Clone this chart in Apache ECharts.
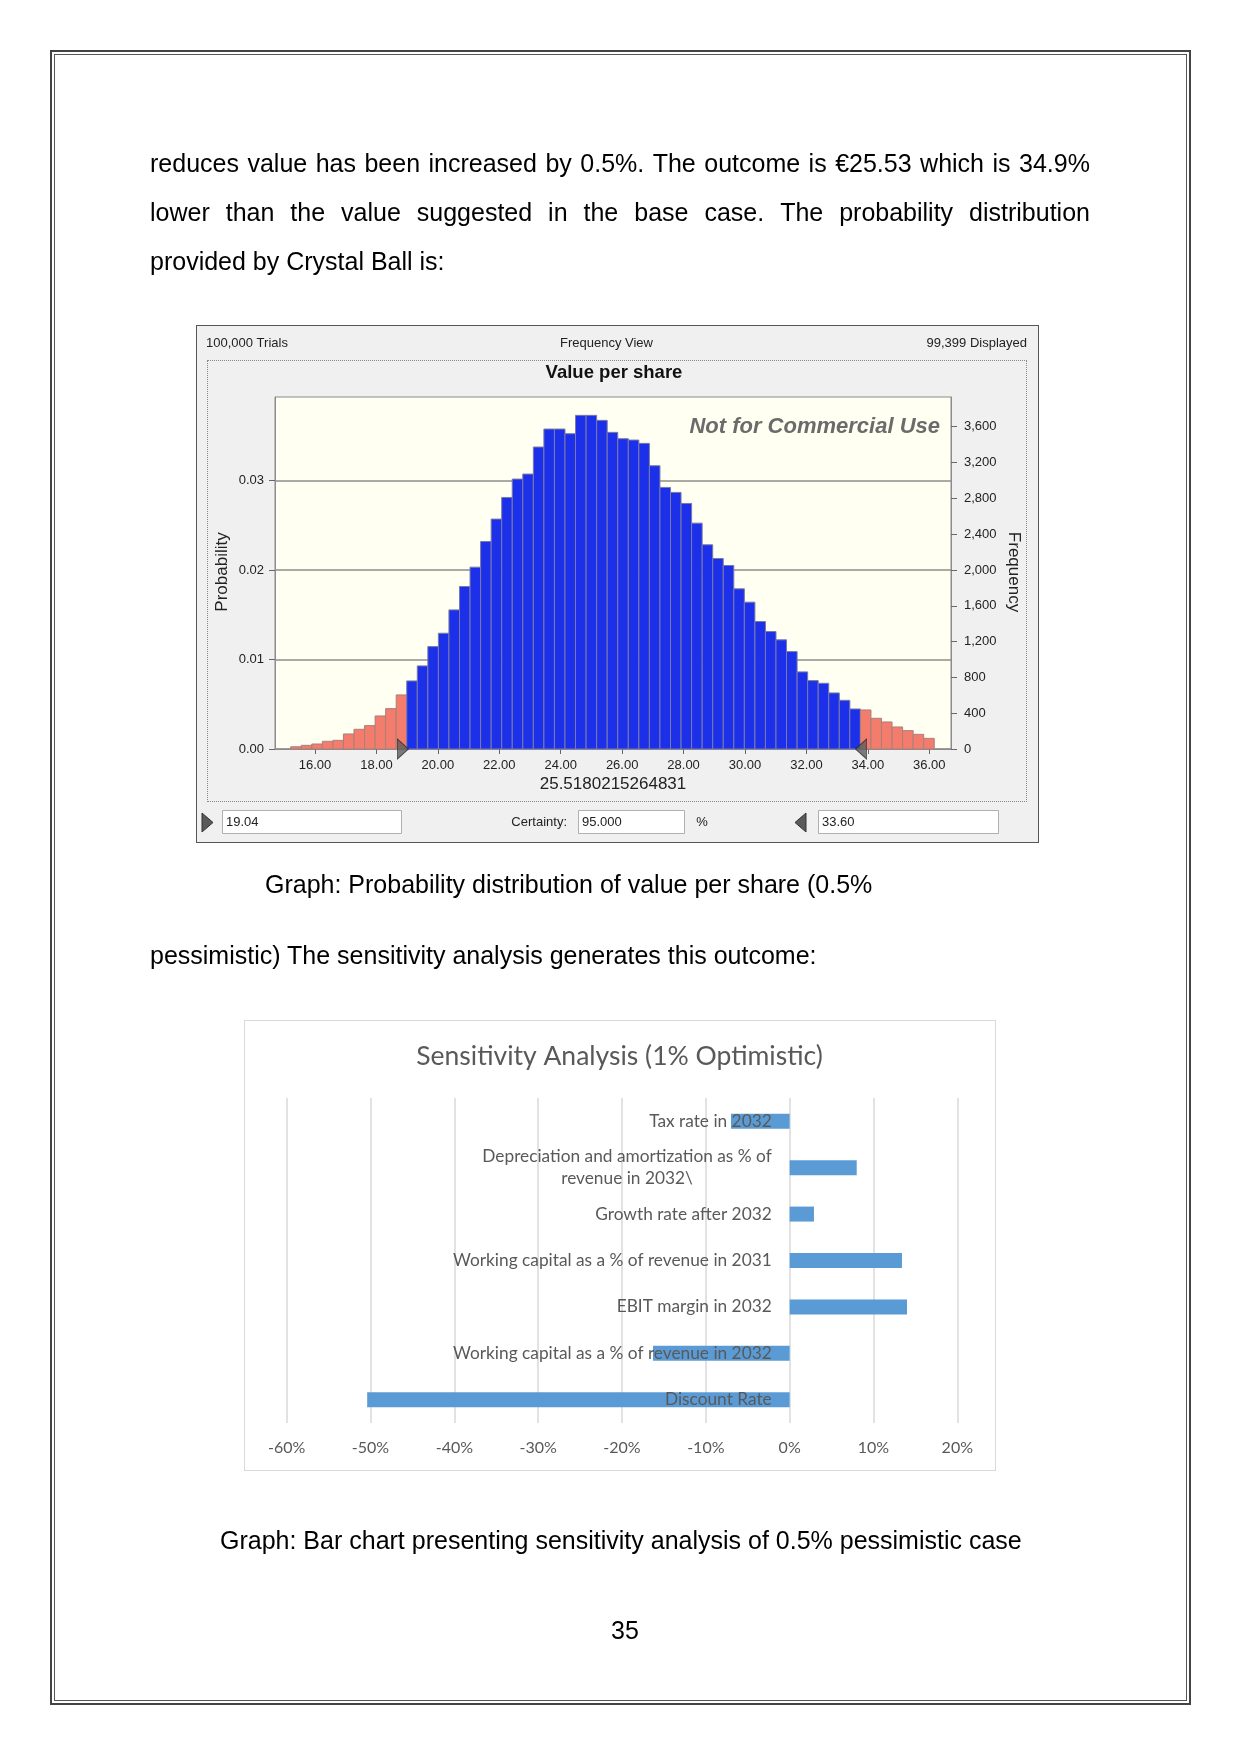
<!DOCTYPE html>
<html><head><meta charset="utf-8">
<script src="https://cdn.jsdelivr.net/npm/echarts@6/dist/echarts.min.js"></script>
<style>
body{margin:0;background:#fff;}
#page{position:relative;width:1242px;height:1756px;overflow:hidden;background:#fff;font-family:'Liberation Sans',Arial,sans-serif;}
.box{position:absolute;box-sizing:border-box;}
#chart{position:absolute;left:0;top:0;width:1242px;height:1756px;z-index:2;}
.txt{position:absolute;font-size:25px;line-height:49px;height:49px;color:#000;white-space:nowrap;z-index:3;}
.just{display:flex;justify-content:space-between;width:940px;}
</style></head>
<body>
<div id="page">
  <div class="box" style="left:50px;top:50px;width:1141px;height:1655px;border:2px solid #444;"></div>
  <div class="box" style="left:54px;top:54px;width:1133px;height:1647px;border:1px solid #555;"></div>
  <div class="box" style="left:196px;top:325px;width:843px;height:518px;background:#f0f0f0;border:1px solid #555;"></div>
  <div class="box" style="left:207px;top:360px;width:820px;height:442px;border:1px dotted #888;"></div>
  <div class="box" style="left:244px;top:1020px;width:752px;height:451px;background:#fff;border:1px solid #d9d9d9;"></div>
  <div id="chart"></div>
  <div id="l1" class="txt just" style="left:150px;top:139px;"></div>
  <div id="l2" class="txt just" style="left:150px;top:188px;"></div>
  <div class="txt" style="left:150px;top:237px;">provided by Crystal Ball is:</div>
  <div class="txt" style="left:265px;top:860px;">Graph: Probability distribution of value per share (0.5%</div>
  <div class="txt" style="left:150px;top:931px;">pessimistic) The sensitivity analysis generates this outcome:</div>
  <div class="txt" style="left:220px;top:1516px;">Graph: Bar chart presenting sensitivity analysis of 0.5% pessimistic case</div>
  <div class="txt" style="left:600px;top:1606px;width:50px;text-align:center;">35</div>
</div>
<script>
// ---------- paragraph lines (justified) ----------
const paraLines = [
  "reduces value has been increased by 0.5%. The outcome is €25.53 which is 34.9%",
  "lower than the value suggested in the base case. The probability distribution"
];
['l1','l2'].forEach((id, k) => {
  const el = document.getElementById(id);
  paraLines[k].split(' ').forEach(w => { const s = document.createElement('span'); s.textContent = w; el.appendChild(s); });
});

// ---------- histogram data (Crystal Ball frequency view) ----------
const binStart = 15.208;
const binWidth = 0.3435;
const frequency = [
  25, 41, 56, 86, 97, 168, 220, 261, 369, 451, 604,
  760, 928, 1144, 1293, 1554, 1815, 2031, 2318, 2568,
  2810, 3015, 3071, 3373, 3574, 3574, 3522, 3727, 3727, 3671, 3537,
  3466, 3451, 3414, 3164, 2922, 2866, 2743, 2523, 2281, 2128,
  2050, 1789, 1640, 1424, 1312, 1219, 1088, 861, 764, 734, 626, 544, 447,
  436, 343, 302, 246, 205, 164, 119
];
const certaintyLow = 19.04;
const certaintyHigh = 33.60;
const xTicks = [16, 18, 20, 22, 24, 26, 28, 30, 32, 34, 36];
const probTicks = [0, 0.01, 0.02, 0.03];
const freqTicks = [0, 400, 800, 1200, 1600, 2000, 2400, 2800, 3200, 3600];

// ---------- sensitivity data ----------
const sensCategories = [
  "Tax rate in 2032",
  "Depreciation and amortization as % of\nrevenue in 2032\\",
  "Growth rate after 2032",
  "Working capital as a % of revenue in 2031",
  "EBIT margin in 2032",
  "Working capital as a % of revenue in 2032",
  "Discount Rate"
];
const sensValues = [-0.070, 0.080, 0.029, 0.134, 0.140, -0.163, -0.504];

const histData = frequency.map((f, i) => [binStart + i * binWidth, binStart + (i + 1) * binWidth, f]);

const CB = 'Liberation Sans';
const XL = 'Lato';
const t = (x, y, text, o) => Object.assign({type:'text', x, y, style: Object.assign({text, fill:'#222', font:'13px ' + CB, align:'left', verticalAlign:'middle'}, o || {})});

const chart = echarts.init(document.getElementById('chart'), null, {width:1242, height:1756});
chart.setOption({
  animation: false,
  grid: [
    {left:275, top:397, width:676, height:352, show:true, backgroundColor:'#fffff2', borderColor:'#8c8c8c', borderWidth:1, outerBoundsMode:'none', containLabel:false},
    {left:286.7, top:1098, width:670.6, height:325, show:false, outerBoundsMode:'none', containLabel:false}
  ],
  xAxis: [
    {type:'value', gridIndex:0, min:14.697, max:36.707,
     axisLine:{show:true, lineStyle:{color:'#8c8c8c'}},
     axisTick:{show:true, length:5, customValues:xTicks, lineStyle:{color:'#666'}},
     axisLabel:{customValues:xTicks, formatter:v => v.toFixed(2), fontSize:13, color:'#222', margin:10, fontFamily:CB},
     splitLine:{show:false}},
    {type:'value', gridIndex:1, min:-0.6, max:0.2, interval:0.1,
     axisLine:{show:false}, axisTick:{show:false},
     splitLine:{show:true, lineStyle:{color:'#d9d9d9', width:1.5}},
     axisLabel:{formatter:v => Math.round(v * 100) + '%', fontSize:16, color:'#595959', margin:17, fontFamily:XL}}
  ],
  yAxis: [
    {type:'value', gridIndex:0, position:'left', min:0, max:0.03932, interval:0.01,
     axisLine:{show:true, lineStyle:{color:'#8c8c8c'}},
     axisTick:{show:true, length:6, customValues:probTicks, lineStyle:{color:'#666'}},
     axisLabel:{customValues:probTicks, formatter:v => v.toFixed(2), fontSize:13, color:'#222', margin:11, fontFamily:CB},
     splitLine:{show:true, lineStyle:{color:'#8c8c8c', width:1.5}}},
    {type:'value', gridIndex:0, position:'right', min:0, max:3932, interval:400,
     axisLine:{show:true, lineStyle:{color:'#8c8c8c'}},
     axisTick:{show:true, length:6, customValues:freqTicks, lineStyle:{color:'#666'}},
     axisLabel:{customValues:freqTicks, formatter:v => v.toLocaleString('en-US'), fontSize:13, color:'#222', margin:13, fontFamily:CB},
     splitLine:{show:false}},
    {type:'category', gridIndex:1, data:sensCategories, inverse:true, z:10, position:'left', offset:-503,
     axisLine:{show:false, onZero:false}, axisTick:{show:false}, splitLine:{show:false},
     axisLabel:{interval:0, margin:18, fontSize:17.3, color:'#595959', fontFamily:XL, lineHeight:22,
       formatter: v => v.indexOf('\n') >= 0 ? v.split('\n').map(s => '{c|' + s + '}').join('\n') : v,
       rich:{c:{align:'center', fontSize:17.3, color:'#595959', fontFamily:XL, lineHeight:22}}}}
  ],
  series: [
    {type:'custom', xAxisIndex:0, yAxisIndex:1, data:histData, encode:{x:[0,1], y:2}, z:2,
     renderItem:(params, api) => {
       const a = api.coord([api.value(0), api.value(2)]);
       const b = api.coord([api.value(1), 0]);
       const mid = (api.value(0) + api.value(1)) / 2;
       const tail = mid < certaintyLow || mid > certaintyHigh;
       return {type:'rect', shape:{x:a[0], y:a[1], width:b[0] - a[0], height:b[1] - a[1]},
               style:{fill: tail ? '#f47c6c' : '#1b30e8', stroke: tail ? '#a8807a' : '#7a7aa8', lineWidth:1}};
     }},
    {type:'scatter', xAxisIndex:0, yAxisIndex:1, data:[[certaintyLow, 0]], clip:false, silent:true, z:5,
     symbol:'path://M0,0L10,10L0,20Z', symbolSize:[11,20], symbolOffset:[-5.5,0],
     itemStyle:{color:'#5c5c5c', borderColor:'#2a2a2a', borderWidth:1}},
    {type:'scatter', xAxisIndex:0, yAxisIndex:1, data:[[certaintyHigh, 0]], clip:false, silent:true, z:5,
     symbol:'path://M10,0L0,10L10,20Z', symbolSize:[11,20], symbolOffset:[5.5,0],
     itemStyle:{color:'#5c5c5c', borderColor:'#2a2a2a', borderWidth:1}},
    {type:'bar', xAxisIndex:1, yAxisIndex:2, data:sensValues, barWidth:15, z:2,
     itemStyle:{color:'#5b9bd5'}}
  ],
  graphic: [
    t(206, 343, '100,000 Trials'),
    t(606.5, 343, 'Frequency View', {align:'center'}),
    t(1027, 343, '99,399 Displayed', {align:'right'}),
    t(614, 373, 'Value per share', {align:'center', font:'bold 18.5px ' + CB, fill:'#111'}),
    t(940, 427, 'Not for Commercial Use', {align:'right', font:'italic bold 22px ' + CB, fill:'#6b6b6b'}),
    Object.assign(t(222.5, 572, 'Probability', {align:'center', font:'17px ' + CB}), {rotation: Math.PI / 2}),
    Object.assign(t(1014, 572, 'Frequency', {align:'center', font:'17px ' + CB}), {rotation: -Math.PI / 2}),
    t(613, 784, '25.5180215264831', {align:'center', font:'17px ' + CB}),
    {type:'polygon', shape:{points:[[202,813],[213,822.5],[202,832]]}, style:{fill:'#5a5a5a', stroke:'#333', lineWidth:1}},
    {type:'rect', shape:{x:222.5, y:810.5, width:179, height:23}, style:{fill:'#fff', stroke:'#b0b0b0', lineWidth:1}},
    t(226, 822, '19.04'),
    t(567, 822, 'Certainty:', {align:'right'}),
    {type:'rect', shape:{x:578.5, y:810.5, width:106, height:23}, style:{fill:'#fff', stroke:'#b0b0b0', lineWidth:1}},
    t(582, 822, '95.000'),
    t(702, 822, '%', {align:'center'}),
    {type:'polygon', shape:{points:[[806,813],[795,822.5],[806,832]]}, style:{fill:'#5a5a5a', stroke:'#333', lineWidth:1}},
    {type:'rect', shape:{x:818.5, y:810.5, width:180, height:23}, style:{fill:'#fff', stroke:'#b0b0b0', lineWidth:1}},
    t(822, 822, '33.60'),
    t(619.5, 1056, 'Sensitivity Analysis (1% Optimistic)', {align:'center', font:'26.5px ' + XL, fill:'#595959'})
  ]
});
</script>
</body></html>
